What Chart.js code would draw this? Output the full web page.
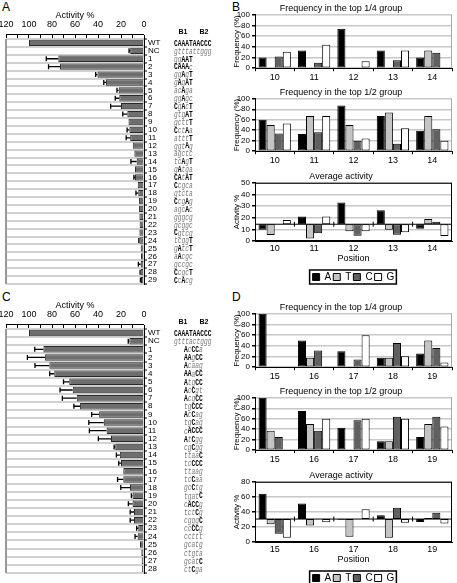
<!DOCTYPE html>
<html><head><meta charset="utf-8">
<script src="https://cdn.jsdelivr.net/npm/chart.js@4/dist/chart.umd.min.js"></script>
<style>
html,body{margin:0;padding:0;background:#fff;}
body{width:457px;height:583px;position:relative;overflow:hidden;font-family:"Liberation Sans",Arial,sans-serif;}
canvas{position:absolute;}
.pl{position:absolute;font:12px "Liberation Sans",Arial,sans-serif;color:#000;line-height:12px;}
</style></head><body>
<div class="pl" style="left:2px;top:1px">A</div>
<div class="pl" style="left:232px;top:1px">B</div>
<div class="pl" style="left:2px;top:291px">C</div>
<div class="pl" style="left:232px;top:291px">D</div>
<canvas id="cA" width="230" height="290" style="left:0;top:0"></canvas>
<canvas id="cC" width="230" height="293" style="left:0;top:290px"></canvas>
<canvas id="cB1" width="227" height="84" style="left:230px;top:0"></canvas>
<canvas id="cB2" width="227" height="83" style="left:230px;top:84px"></canvas>
<canvas id="cB3" width="227" height="127" style="left:230px;top:167px"></canvas>
<canvas id="cD1" width="227" height="84" style="left:230px;top:299px"></canvas>
<canvas id="cD2" width="227" height="83" style="left:230px;top:383px"></canvas>
<canvas id="cD3" width="227" height="127" style="left:230px;top:466px"></canvas>
<script>
// ---------- DATA ----------
const rowsA = ['WT','NC','1','2','3','4','5','6','7','8','9','10','11','12','13','14','15','16','17','18','19','20','21','22','23','24','25','26','27','28','29'];
const actA = [100,12,74.5,73,40.5,33,22,21.5,20,14.5,13.5,12.7,12,9.8,8.4,6.4,7.8,7.8,5.5,5,4.3,4.3,4,3.8,4,4,2.9,2.6,2.9,2.9,2.6];
const errA = [0,1,10.5,10,1.5,2,1.5,3.5,9,4,0,2,3.5,0,0,5,0,1,0,2,0,0,0,0,0,0.5,0,0,2,0.5,0.5];
const seqA = ['CAAATAACCC','gtttattggg','ggAAT','CAAAc','ggAgT','gAgAT','acAga','ggAgc','CgAcT','gtgAT','gcttT','CctAa','atttT','ggtAg','agctc','tcAgT','gAtga','CAtAT','Ccgca','gtcta','CcgAg','agcAc','gggcg','gcggc','Cgtcg','tcggT','gAtcT','aAcgc','gccgc','CcgcT','CcAcg'];

const rowsC = ['WT','NC','1','2','3','4','5','6','7','8','9','10','11','12','13','14','15','16','17','18','19','20','21','22','23','24','25','26','27','28'];
const actC = [100,12.7,87.5,86,82.3,78,65,62,58.5,55.6,39,35,32.5,28.7,25,21,20,18,18,12.2,10,10,8.7,8.7,5,5.5,3.5,2.3,2,1.7];
const errC = [0,1,7.5,15.4,12.5,4,5,11,12.5,5.4,6.5,13,15,11,1,3,2,0,5,8,1,3.6,3.3,3.3,1.4,2.3,0,0,0,0];
const seqC = ['CAAATAACCC','gtttactggg','AcCCa','AAgCC','Acaag','AAaCC','AtgCC','AcCgt','AcgCC','tgCCC','AcCag','tgCag','cACCC','AtCgg','cgCgg','ttaaC','tcCCC','ttaag','tcCaa','gcCtg','tgatC','cACCg','tctCg','cgggC','ccCCg','ccttt','gcatg','ctgta','gcatC','ctCga'];

const bases = ['A','T','C','G'];
const posB = ['10','11','12','13','14'];
const bQuarterA = [20,33,74,33,20];
const bQuarterT = [0,0,0,0,33];
const bQuarterC = [22,10,0,15,29];
const bQuarterG = [31,44,13,33,0];
const bHalfA = [60,33,87,67,39];
const bHalfT = [50,67,50,74,67];
const bHalfC = [34,36,20,14,42];
const bHalfG = [53,67,24,44,20];
const bAvgBase = 14.4;
const bAvgA = [9.6,21,33,26.5,10.5];
const bAvgT = [5.1,2.1,8.4,9.6,19];
const bAvgC = [null,6.6,4.5,5.4,16.5];
const bAvgG = [18,21,8.4,7.5,4.2];

const posD = ['15','16','17','18','19'];
const dQuarterA = [100,50,30,17.6,25.5];
const dQuarterT = [0,17.6,0,17.6,50];
const dQuarterC = [0,31.5,14.5,45.5,36];
const dQuarterG = [0,0,60,20.6,9];
const dHalfA = [100,75,43,17,25];
const dHalfT = [37,50,0,17,50];
const dHalfC = [25,37,57,64,64];
const dHalfG = [0,60,60,60,45];
const dAvgBase = 30.5;
const dAvgA = [64,51,29.5,35.5,26.5];
const dAvgT = [23.5,22,7,5.8,32];
const dAvgC = [10.8,null,null,45.5,38.8];
const dAvgG = [5.6,26.3,43.5,25.5,24.5];

// ---------- STYLE ----------
Chart.defaults.font.family = '"Liberation Sans", Arial, sans-serif';
Chart.defaults.color = '#000';
const baseColors = ['#000000','#c4c4c4','#606060','#ffffff'];

// ---------- horizontal activity charts ----------
function hbar(id, rows, act, err, seqs, seqX, bottomPad) {
  const plug = {
    id: 'hbarExtras',
    afterDatasetsDraw(chart) {
      const ctx = chart.ctx, xs = chart.scales.x, ys = chart.scales.y, ca = chart.chartArea;
      ctx.save();
      ctx.strokeStyle = '#999'; ctx.lineWidth = 2;
      ctx.beginPath(); ctx.moveTo(ca.left, ca.top); ctx.lineTo(ca.left, ca.bottom); ctx.stroke();
      ctx.strokeStyle = '#000'; ctx.lineWidth = 1;
      ctx.beginPath(); ctx.moveTo(ca.left, ca.top - 4.5); ctx.lineTo(ca.right, ca.top - 4.5); ctx.stroke();
      ctx.lineWidth = 1.3;
      err.forEach((e, i) => {
        if (!e) return;
        const y = ys.getPixelForValue(i);
        const x1 = xs.getPixelForValue(act[i]);
        const x2 = xs.getPixelForValue(act[i] + e);
        ctx.beginPath(); ctx.moveTo(x1, y); ctx.lineTo(x2, y);
        ctx.moveTo(x2, y - 2.5); ctx.lineTo(x2, y + 2.5); ctx.stroke();
      });
      ctx.textBaseline = 'middle';
      seqs.forEach((s, i) => {
        const yy = ys.getPixelForValue(i) + 0.5;
        const x0 = i < 2 ? 174 : seqX;
        for (let k = 0; k < s.length; k++) {
          const ch = s[k], up = ch === ch.toUpperCase();
          ctx.font = (up ? 'bold ' : 'italic ') + '9px "Liberation Mono", monospace';
          ctx.fillStyle = up ? '#000' : '#777';
          ctx.save(); ctx.translate(x0 + k * 3.75, yy); ctx.scale(0.69, 1); ctx.fillText(ch, 0, 0); ctx.restore();
        }
      });
      ctx.font = 'bold 7px "Liberation Sans", Arial, sans-serif';
      ctx.fillStyle = '#000'; ctx.textAlign = 'center';
      ctx.fillText('B1', 183, ca.top - 7);
      ctx.fillText('B2', 204, ca.top - 7);
      ctx.restore();
    }
  };
  return new Chart(document.getElementById(id), {
    type: 'bar',
    data: { labels: rows, datasets: [{ data: act, backgroundColor: '#6e6e6e', borderColor: '#2a2a2a', borderWidth: 1, barPercentage: 0.8, categoryPercentage: 1 }] },
    options: {
      indexAxis: 'y', animation: false, responsive: false,
      layout: { padding: { left: 6, top: 0, right: 0, bottom: bottomPad } },
      plugins: { legend: { display: false }, tooltip: { enabled: false } },
      scales: {
        x: {
          position: 'top', reverse: true, min: 0, max: 120,
          ticks: { stepSize: 10, autoSkip: false, maxRotation: 0, padding: 5, font: { size: 9 }, callback: v => (v % 20 === 0 ? v : '') },
          grid: { drawOnChartArea: false, tickLength: 4, color: '#000', tickColor: '#000' },
          border: { display: false },
          title: { display: true, text: 'Activity %', font: { size: 9 }, padding: { top: 10, bottom: 0 } },
          afterFit(s) { s.height = 39; s.paddingLeft = 0; s.paddingRight = 0; }
        },
        y: {
          position: 'right',
          ticks: { autoSkip: false, font: { size: 8 }, padding: 1 },
          grid: { offset: true, color: '#d2d2d2', lineWidth: 2, tickLength: 3, tickColor: '#000', tickWidth: 1 },
          border: { display: true, color: '#000', width: 1 },
          afterFit(s) { s.width = 86; }
        }
      }
    },
    plugins: [plug]
  });
}
hbar('cA', rowsA, actA, errA, seqA, 174, 6);
hbar('cC', rowsC, actC, errC, seqC, 184, 10);

// ---------- grouped bar charts ----------
function groupChart(id, labels, series, title, yTitle, yMax, yStep, avgBase, withLegend, bottomPad) {
  const datasets = series.map((d, k) => ({
    label: bases[k],
    data: avgBase == null ? d : d.map(v => (v == null ? null : [avgBase, v])),
    backgroundColor: baseColors[k], borderColor: '#000', borderWidth: 1, borderSkipped: false,
    categoryPercentage: 0.82, barPercentage: 1
  }));
  const plug = {
    id: 'frameExtras',
    afterDatasetsDraw(chart) {
      const ctx = chart.ctx, ca = chart.chartArea, xs = chart.scales.x, ys = chart.scales.y;
      ctx.save();
      if (avgBase != null) {
        ctx.strokeStyle = '#000'; ctx.lineWidth = 1;
        ctx.strokeRect(ca.left + 0.5, ca.top + 0.5, ca.right - ca.left - 1, ca.bottom - ca.top - 1);
        const yb = ys.getPixelForValue(avgBase);
        ctx.beginPath(); ctx.moveTo(ca.left, yb); ctx.lineTo(ca.right, yb);
        for (let i = 0; i < labels.length - 1; i++) {
          const xm = (xs.getPixelForValue(i) + xs.getPixelForValue(i + 1)) / 2;
          ctx.moveTo(xm, yb - 2.5); ctx.lineTo(xm, yb + 2.5);
        }
        ctx.stroke();
      } else {
        ctx.strokeStyle = '#aaa'; ctx.lineWidth = 1;
        ctx.beginPath(); ctx.moveTo(ca.right - 0.5, ca.top); ctx.lineTo(ca.right - 0.5, ca.bottom); ctx.stroke();
      }
      ctx.restore();
    },
    afterDraw(chart) {
      if (!withLegend) return;
      const lg = chart.legend; if (!lg || !lg.legendHitBoxes) return;
      const hb = lg.legendHitBoxes;
      let l = Infinity, r = -Infinity, t = Infinity, b = -Infinity;
      hb.forEach(h => { l = Math.min(l, h.left); r = Math.max(r, h.left + h.width); t = Math.min(t, h.top); b = Math.max(b, h.top + h.height); });
      const ctx = chart.ctx; ctx.save(); ctx.strokeStyle = '#000'; ctx.lineWidth = 1.5;
      ctx.strokeRect(l - 3, t - 2, r - l + 5, b - t + 4); ctx.restore();
    }
  };
  const isAvg = avgBase != null;
  return new Chart(document.getElementById(id), {
    type: 'bar',
    data: { labels, datasets },
    options: {
      animation: false, responsive: false,
      layout: { padding: { left: 0, right: 5, top: 0, bottom: bottomPad } },
      plugins: {
        tooltip: { enabled: false },
        title: { display: true, text: title, font: { size: 9, weight: 'normal' }, color: '#000', padding: { top: isAvg ? 4 : 3, bottom: 1 } },
        legend: withLegend ? {
          display: true, position: 'bottom', fullSize: false,
          labels: { boxWidth: 7, boxHeight: 7, padding: 2, font: { size: 10 }, color: '#000' }
        } : { display: false }
      },
      scales: {
        x: {
          ticks: { font: { size: 9 }, padding: isAvg ? 2 : 1, maxRotation: 0 },
          grid: { offset: true, drawOnChartArea: false, drawTicks: !isAvg, tickLength: 3, color: '#000' },
          border: { display: true, color: '#000' },
          title: withLegend ? { display: true, text: 'Position', font: { size: 9 }, padding: { top: 1, bottom: 6 } } : { display: false },
          afterFit(s) { if (withLegend) s.height = 29; }
        },
        y: {
          min: 0, max: yMax,
          ticks: { stepSize: yStep, autoSkip: false, font: { size: 8 }, padding: 2 },
          grid: { color: '#c8c8c8', lineWidth: 1.5, tickLength: 3, tickColor: '#000', drawTicks: true },
          border: { display: true, color: '#000' },
          title: { display: true, text: yTitle, font: { size: 8 }, padding: { top: 2, bottom: 0 } },
          afterFit(s) { s.width = 25; }
        }
      }
    },
    plugins: [plug]
  });
}
groupChart('cB1', posB, [bQuarterA, bQuarterT, bQuarterC, bQuarterG], 'Frequency in the top 1/4 group', 'Frequency (%)', 100, 20, null, false, 0);
groupChart('cB2', posB, [bHalfA, bHalfT, bHalfC, bHalfG], 'Frequency in the top 1/2 group', 'Frequency (%)', 100, 20, null, false, 0);
groupChart('cB3', posB, [bAvgA, bAvgT, bAvgC, bAvgG], 'Average activity', 'Activity %', 50, 10, bAvgBase, true, 2);
groupChart('cD1', posD, [dQuarterA, dQuarterT, dQuarterC, dQuarterG], 'Frequency in the top 1/4 group', 'Frequency (%)', 100, 20, null, false, 0);
groupChart('cD2', posD, [dHalfA, dHalfT, dHalfC, dHalfG], 'Frequency in the top 1/2 group', 'Frequency (%)', 100, 20, null, false, 0);
groupChart('cD3', posD, [dAvgA, dAvgT, dAvgC, dAvgG], 'Average activity', 'Activity %', 80, 20, dAvgBase, true, 0);
</script>
</body></html>
